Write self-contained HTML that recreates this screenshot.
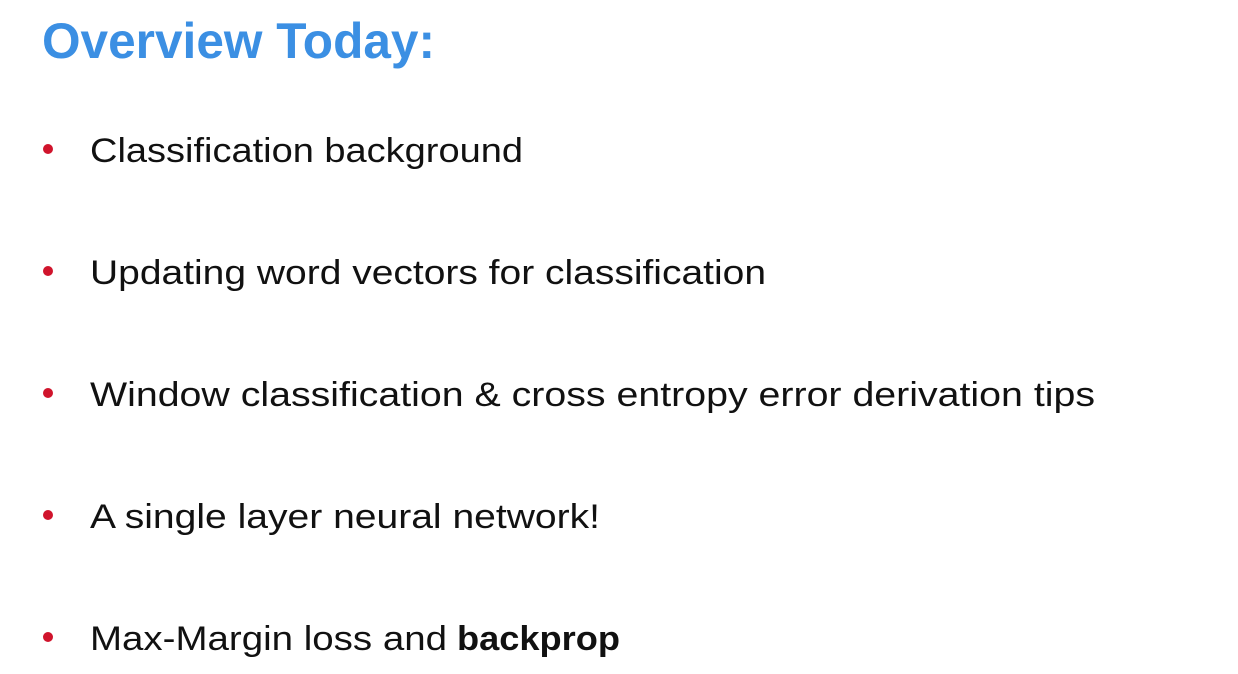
<!DOCTYPE html>
<html><head><meta charset="utf-8"><style>
html,body{margin:0;padding:0;background:#fff;}
svg{display:block;}
text{font-family:"Liberation Sans",sans-serif;}
</style></head><body>
<svg width="1238" height="674" viewBox="0 0 1238 674" xmlns="http://www.w3.org/2000/svg">
<rect width="1238" height="674" fill="#fff"/>
<text x="42" y="58" font-size="50" font-weight="bold" fill="#3b8fe3" textLength="393" lengthAdjust="spacingAndGlyphs">Overview Today:</text>
<g fill="#d0142c">
<circle cx="48" cy="149" r="5"/>
<circle cx="48" cy="271" r="5"/>
<circle cx="48" cy="393" r="5"/>
<circle cx="48" cy="515" r="5"/>
<circle cx="48" cy="637" r="5"/>
</g>
<g font-size="34" fill="#111">
<text x="90" y="162" textLength="433" lengthAdjust="spacingAndGlyphs">Classification background</text>
<text x="90" y="284" textLength="676" lengthAdjust="spacingAndGlyphs">Updating word vectors for classification</text>
<text x="90" y="406" textLength="1005" lengthAdjust="spacingAndGlyphs">Window classification &amp; cross entropy error derivation tips</text>
<text x="90" y="528" textLength="510" lengthAdjust="spacingAndGlyphs">A single layer neural network!</text>
<text x="90" y="650" textLength="357" lengthAdjust="spacingAndGlyphs">Max-Margin loss and</text>
<text x="457" y="650" font-weight="bold" textLength="163" lengthAdjust="spacingAndGlyphs">backprop</text>
</g>
</svg>
</body></html>
